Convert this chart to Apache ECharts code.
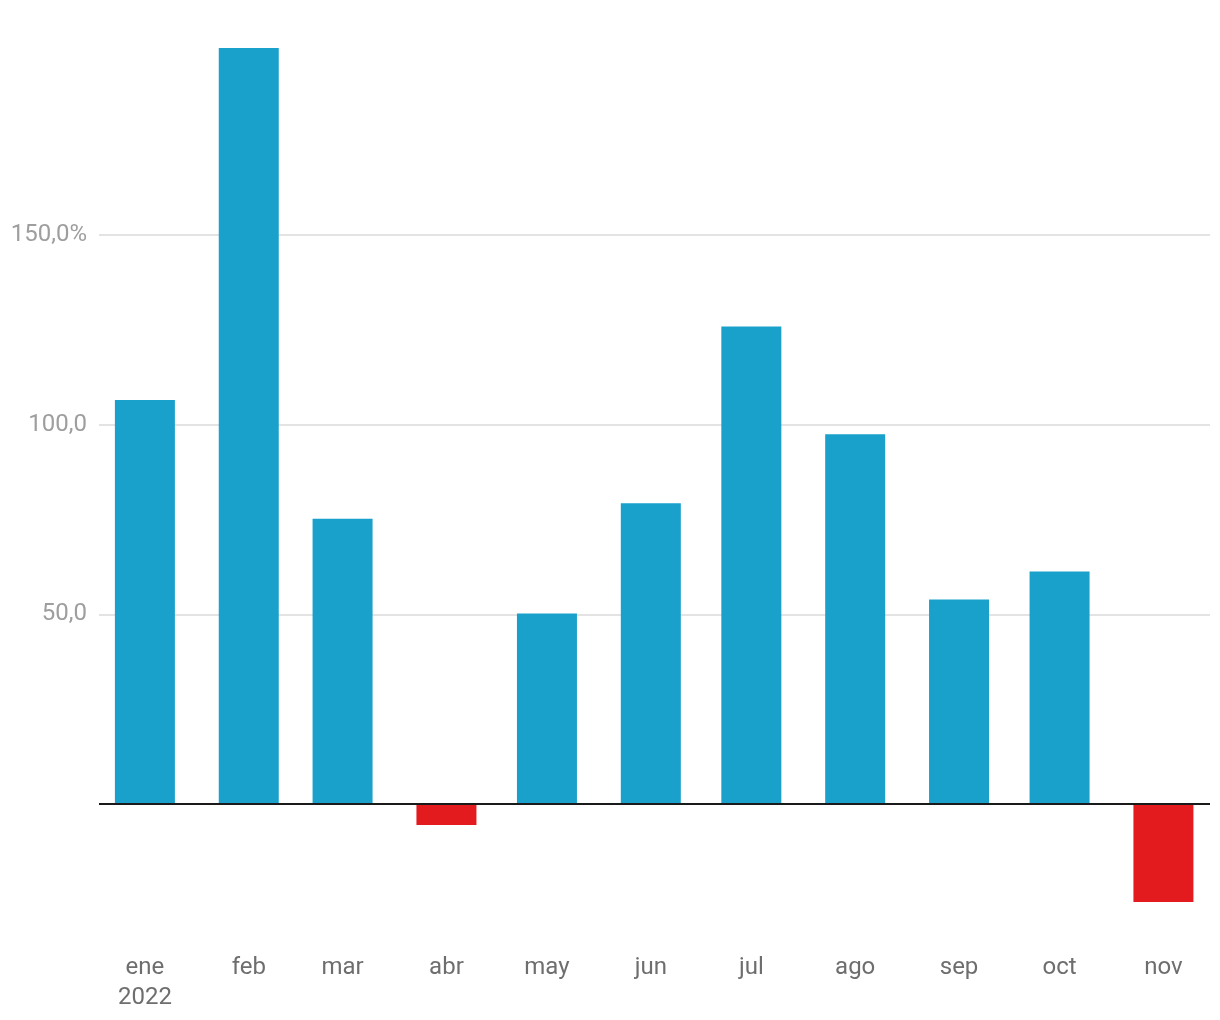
<!DOCTYPE html>
<html>
<head>
<meta charset="utf-8">
<script src="https://cdn.jsdelivr.net/npm/echarts@6/dist/echarts.min.js"></script>
<style>
  html, body { margin: 0; padding: 0; background: #fff; }
  #chart { width: 1220px; height: 1020px; }
</style>
</head>
<body>
<div id="chart"></div>
<script>
  // Data
  const year = 2022
  const monthLabels = ['ene', 'feb', 'mar', 'abr', 'may', 'jun', 'jul', 'ago', 'sep', 'oct', 'nov']
  const values = [106.5, 199.3, 75.2, -5.5, 50.2, 79.3, 125.9, 97.5, 53.9, 61.3, -25.8]
  const yTicks = [50, 100, 150]

  // x position = days since 1 Jan (months have different lengths)
  const DAY = 24 * 3600 * 1000
  let monthDays = monthLabels.map((m, i) => (Date.UTC(year, i, 1) - Date.UTC(year, 0, 1)) / DAY)
  let seriesData = monthDays.map((d, i) => [d, values[i]])

  let option = {
    backgroundColor: '#fff',
    animation: false,
    grid: {
      left: 99,
      right: 10,
      top: 45.4,
      bottom: 83.2,
      containLabel: false
    },
    xAxis: {
      type: 'value',
      min: -13.7,
      max: monthDays[monthDays.length - 1] + 13.9,
      axisLine: { show: false },
      axisTick: { show: false },
      splitLine: { show: false },
      axisLabel: {
        customValues: monthDays,
        margin: 16,
        color: '#6e6e6e',
        fontFamily: 'Roboto',
        fontSize: 24,
        lineHeight: 30,
        verticalAlign: 'top',
        formatter: function (v) {
          let i = monthDays.indexOf(v)
          let s = monthLabels[i]
          if (i === 0) s += '\n' + year
          return s
        }
      }
    },
    yAxis: {
      type: 'value',
      min: -35,
      max: 200,
      axisLine: { show: false },
      axisTick: { show: false },
      splitLine: {
        show: true,
        showMinLine: false,
        showMaxLine: false,
        lineStyle: { color: '#e3e3e3', width: 2 }
      },
      axisLabel: {
        customValues: yTicks,
        margin: 12,
        padding: [4, 0, 0, 0],
        color: '#9e9e9e',
        fontFamily: 'Roboto',
        fontSize: 24,
        formatter: function (v) {
          let s = v.toFixed(1).replace('.', ',')
          return v === 150 ? s + '%' : s
        }
      }
    },
    series: [{
      type: 'bar',
      barWidth: 60,
      data: seriesData.map(p => ({
        value: p,
        itemStyle: { color: p[1] < 0 ? '#e31b1f' : '#19a1cc' }
      })),
      markLine: {
        silent: true,
        symbol: 'none',
        label: { show: false },
        lineStyle: { color: '#1a1a1a', width: 2, type: 'solid' },
        data: [{ yAxis: 0 }]
      }
    }]
  }

  let chart = echarts.init(document.getElementById('chart'))
  chart.setOption(option)
</script>
</body>
</html>
